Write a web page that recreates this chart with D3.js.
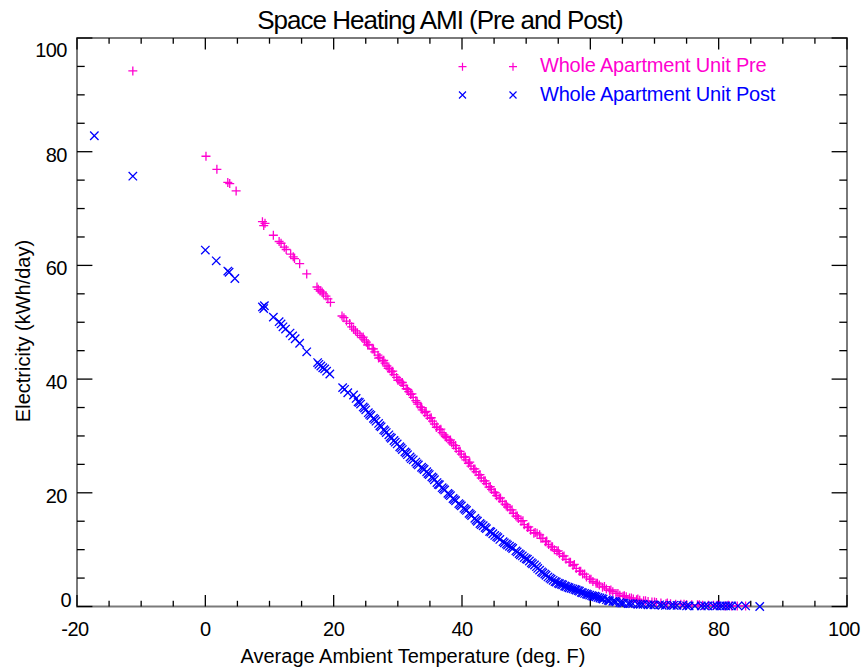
<!DOCTYPE html>
<html>
<head>
<meta charset="utf-8">
<script src="https://cdn.jsdelivr.net/npm/d3@7"></script>
<style>
  body { margin: 0; background: #fff; }
  text { font-family: "Liberation Sans", Arial, sans-serif; }
</style>
</head>
<body>
<div id="chart"></div>
<script>
// Daten - Vorher
const preTemp = [-11.3, 0.1, 1.8, 3.5, 3.8, 4.8, 8.9, 9.1, 9.3, 10.6, 11.5, 11.8, 12.3, 12.6, 13.3, 13.7, 13.9, 14.7, 15.8,
  17.4, 17.6, 17.9, 18.2, 18.4, 18.8, 19.1, 19.5, 21.3, 21.6, 22.8, 23.1, 23.4, 23.7, 24.1, 24.4, 24.8, 25.1, 25.5,
  26.0, 26.4, 26.9, 27.2, 27.6, 28.0, 28.3, 28.7, 29.0, 29.4, 29.8, 30.2, 30.5, 30.9, 31.3, 31.7, 32.0, 32.4, 32.8,
  33.1, 33.5, 33.8, 34.2, 34.6, 35.0, 35.4, 35.7, 36.1, 36.5, 36.9, 37.2, 37.6, 38.0, 38.4, 38.7, 39.1, 39.5, 39.9,
  40.3, 40.6, 41.0, 41.4, 41.8, 42.2, 42.6, 43.0, 43.4, 43.8, 44.2, 44.6, 45.0, 45.4, 45.8, 46.3, 46.7, 47.1, 47.5,
  48.0, 48.4, 48.8, 49.2, 49.7, 50.2, 50.7, 51.2, 51.7, 52.1, 52.6, 53.0, 53.5, 53.9, 54.4, 54.8, 55.2, 55.7, 56.2,
  56.7, 57.3, 57.8, 58.3, 58.8, 59.4, 59.9, 60.4, 60.9, 61.4, 61.9, 62.5, 63.0, 63.5, 64.0, 64.6, 65.1, 65.6, 66.1,
  66.7, 67.2, 67.7, 68.3, 69.0, 69.6, 70.3, 71.0, 71.8, 72.5, 73.3, 74.1, 75.0, 75.8, 76.7, 77.5, 78.4, 79.2, 80.1,
  81.0, 82.0, 82.9, 84.2];
const preKwh = [94.2, 79.2, 76.9, 74.6, 74.4, 73.1, 67.7, 67.0, 67.4, 65.3, 64.2, 63.9, 63.2, 62.8, 62.0, 61.5, 61.2, 60.3, 58.5,
  56.2, 55.8, 55.5, 55.3, 55.0, 54.6, 54.1, 53.5, 51.1, 50.8, 49.2, 48.8, 48.5, 48.1, 47.7, 47.3, 46.9, 46.5, 46.1,
  45.3, 44.8, 44.2, 43.8, 43.2, 42.8, 42.3, 41.8, 41.3, 40.8, 40.3, 39.8, 39.4, 38.9, 38.3, 37.8, 37.3, 36.8, 36.2,
  35.6, 35.1, 34.6, 34.1, 33.6, 33.1, 32.6, 32.1, 31.6, 31.1, 30.6, 30.2, 29.7, 29.2, 28.8, 28.4, 27.8, 27.3, 26.8,
  26.3, 25.8, 25.2, 24.7, 24.2, 23.7, 23.1, 22.6, 22.1, 21.6, 21.0, 20.6, 20.1, 19.5, 19.0, 18.5, 18.0, 17.5, 17.0,
  16.4, 15.9, 15.5, 15.0, 14.4, 13.9, 13.4, 12.9, 12.9, 12.6, 12.0, 11.4, 10.9, 10.5, 10.0, 9.7, 9.3, 8.8, 8.3,
  7.8, 7.2, 6.7, 6.2, 5.7, 5.2, 4.8, 4.4, 4.1, 3.8, 3.4, 3.1, 2.8, 2.6, 2.3, 2.0, 1.8, 1.7, 1.5,
  1.3, 1.2, 1.1, 1.0, 0.9, 0.8, 0.7, 0.6, 0.5, 0.5, 0.4, 0.4, 0.3, 0.3, 0.3, 0.2, 0.2, 0.2, 0.2,
  0.1, 0.1, 0.1, 0.1];
// weitere Tage im dichten Bereich
const preTempB = [22.0, 22.5, 24.6, 25.3, 26.2, 27.0, 27.8, 28.5, 29.2, 30.0, 30.7, 31.5, 32.2, 33.0, 33.7, 34.4, 35.2, 36.0,
  36.7, 37.4, 38.2, 39.0, 39.7, 40.5, 41.2, 42.0, 42.8, 43.6, 44.4, 45.2, 46.0, 46.9, 47.8, 48.6, 49.5, 50.4, 51.4,
  52.3, 53.2, 54.1, 55.0, 55.9, 56.9, 57.5, 58.5, 59.1, 60.1, 61.1, 62.2, 63.2, 64.3, 65.3, 66.4, 67.4, 68.6, 70.0,
  72.0, 74.6, 77.0, 79.8, 81.5];
const preKwhB = [50.2, 49.8, 47.4, 46.0, 45.3, 43.7, 43.3, 41.9, 41.4, 39.8, 39.4, 38.2, 37.4, 35.9, 35.0, 34.3, 33.2, 31.5,
  31.2, 29.9, 29.3, 28.3, 27.3, 26.3, 25.4, 24.2, 23.2, 22.1, 21.1, 20.0, 19.1, 17.9, 17.0, 15.9, 15.1, 14.0, 13.0,
  12.0, 11.5, 10.5, 9.8, 8.9, 7.8, 7.4, 6.2, 5.7, 4.8, 4.1, 3.5, 2.9, 2.3, 1.9, 1.5, 1.3, 1.0, 0.8,
  0.6, 0.4, 0.3, 0.2, 0.2];

// Daten - Nachher
const postTemp = [-17.3, -11.3, 0.0, 1.7, 3.5, 3.7, 4.6, 8.9, 9.1, 9.2, 10.6, 11.5, 11.8, 12.1, 12.5, 13.2, 13.6, 14.0, 14.7,
  15.8, 17.5, 17.7, 18.0, 18.3, 18.6, 18.9, 19.4, 21.4, 21.7, 23.1, 23.5, 23.8, 24.2, 24.6, 25.0, 25.4, 25.8, 26.2,
  26.6, 27.0, 27.4, 27.8, 28.2, 28.6, 29.0, 29.4, 29.9, 30.3, 30.7, 31.1, 31.5, 31.9, 32.4, 32.8, 33.2, 33.7, 34.1,
  34.5, 34.9, 35.3, 35.7, 36.1, 36.5, 36.9, 37.3, 37.8, 38.2, 38.6, 39.0, 39.5, 39.9, 40.3, 40.7, 41.1, 41.5, 42.0,
  42.4, 42.8, 43.3, 43.8, 44.3, 44.8, 45.4, 45.9, 46.4, 46.9, 47.4, 47.9, 48.4, 48.9, 49.4, 50.0, 50.5, 51.0, 51.6,
  52.1, 52.6, 53.1, 53.7, 54.2, 54.7, 55.2, 55.7, 56.2, 56.7, 57.3, 57.8, 58.3, 58.8, 59.4, 59.9, 60.4, 60.9, 61.5,
  62.0, 62.5, 63.0, 63.5, 64.0, 64.6, 65.2, 65.9, 66.6, 67.4, 68.2, 69.0, 69.9, 70.8, 71.7, 72.6, 73.5, 74.4, 75.4,
  76.3, 77.3, 78.3, 79.2, 80.2, 81.1, 82.0, 84.2, 86.4];
const postKwh = [82.8, 75.7, 62.7, 60.8, 59.0, 58.8, 57.7, 52.7, 52.4, 52.9, 50.9, 50.1, 49.7, 49.2, 48.8, 48.1, 47.6, 47.1, 46.3,
  44.8, 42.9, 42.6, 42.3, 42.0, 41.8, 41.4, 40.9, 38.5, 38.2, 37.2, 36.6, 36.0, 35.6, 35.1, 34.6, 34.1, 33.6, 33.1,
  32.6, 32.2, 31.6, 31.1, 30.6, 30.2, 29.6, 29.2, 28.6, 28.1, 27.6, 27.2, 26.7, 26.3, 25.8, 25.4, 24.9, 24.5, 24.1,
  23.7, 23.2, 22.8, 22.3, 21.8, 21.4, 20.9, 20.5, 19.9, 19.5, 19.0, 18.6, 18.1, 17.7, 17.3, 16.9, 16.4, 16.0, 15.5,
  15.0, 14.6, 14.2, 13.7, 13.2, 12.8, 12.3, 11.8, 11.4, 11.0, 10.6, 10.2, 9.8, 9.3, 8.9, 8.4, 8.0, 7.5, 7.0,
  6.4, 5.9, 5.5, 5.0, 4.6, 4.3, 4.0, 3.8, 3.5, 3.3, 3.1, 2.9, 2.7, 2.4, 2.2, 2.0, 1.8, 1.7, 1.5,
  1.3, 1.2, 1.0, 0.9, 0.8, 0.7, 0.6, 0.5, 0.5, 0.4, 0.4, 0.3, 0.3, 0.3, 0.2, 0.2, 0.2, 0.2, 0.1,
  0.1, 0.1, 0.1, 0.1, 0.1, 0.1, 0.1, 0.1, 0.0];
const postTempB = [22.2, 24.0, 24.8, 25.6, 26.4, 27.2, 28.0, 28.8, 29.6, 30.5, 31.3, 32.1, 33.0, 33.9, 34.7, 35.5, 36.3, 37.1,
  38.0, 38.8, 39.7, 40.5, 41.3, 42.2, 43.0, 43.6, 44.5, 45.1, 45.6, 46.6, 47.1, 47.7, 48.6, 49.1, 49.7, 50.2, 50.8,
  51.3, 51.8, 52.4, 52.9, 53.4, 53.9, 54.5, 55.0, 55.5, 56.0, 56.5, 57.0, 57.6, 58.1, 58.6, 59.1, 59.6, 60.2, 60.7,
  61.2, 61.8, 62.8, 63.8, 64.9, 66.2, 67.8, 69.4, 71.2, 73.0, 75.0, 77.8, 79.7, 80.6, 81.6, 83.0];
const postKwhB = [37.6, 35.9, 34.9, 33.8, 32.9, 31.8, 30.9, 29.8, 28.9, 27.9, 27.0, 26.0, 25.1, 24.3, 23.4, 22.6, 21.5, 20.7,
  19.7, 18.8, 17.9, 17.1, 16.2, 15.2, 14.4, 13.9, 13.1, 12.5, 12.1, 11.2, 10.8, 10.4, 9.6, 9.1, 8.6, 8.3, 7.7,
  7.3, 6.7, 6.1, 5.7, 5.2, 4.8, 4.4, 4.1, 3.9, 3.6, 3.4, 3.2, 3.0, 2.8, 2.5, 2.3, 2.1, 1.9, 1.8,
  1.6, 1.4, 1.1, 0.9, 0.6, 0.5, 0.4, 0.3, 0.2, 0.2, 0.1, 0.1, 0.1, 0.1, 0.1, 0.1];

const xTicks = [-20, 0, 20, 40, 60, 80, 100];
const yTicks = [0, 20, 40, 60, 80, 100];
const preColor = "#ff00d0";
const postColor = "#0000ff";

const width = 864, height = 670;
const margin = { top: 38, right: 17, bottom: 63.5, left: 77 };
const plotW = width - margin.left - margin.right;
const plotH = height - margin.top - margin.bottom;

const svg = d3.select("#chart").append("svg")
  .attr("width", width)
  .attr("height", height);

const x = d3.scaleLinear().domain([-20, 100]).range([margin.left, margin.left + plotW]);
const y = d3.scaleLinear().domain([0, 100]).range([margin.top + plotH, margin.top]);

// Achsenrahmen (grau)
svg.append("rect")
  .attr("x", margin.left).attr("y", margin.top)
  .attr("width", plotW).attr("height", plotH)
  .attr("fill", "none").attr("stroke", "#7a7a7a").attr("stroke-width", 2);

// Ticks nach innen, Nebenticks alle 5 Einheiten
const xMinor = d3.range(-20, 100.1, 5);
const yMinor = d3.range(0, 100.1, 5);
const xLen = d => (d % 20 === 0 ? 11.4 : 5.7);
const yLen = d => (d % 20 === 0 ? 15.4 : 7.7);
const ticks = svg.append("g").attr("stroke", "#000").attr("stroke-width", 1.3);

ticks.selectAll(".xb").data(xMinor).enter().append("line")
  .attr("x1", d => x(d)).attr("x2", d => x(d))
  .attr("y1", y(0)).attr("y2", d => y(0) - xLen(d));
ticks.selectAll(".xt").data(xMinor).enter().append("line")
  .attr("x1", d => x(d)).attr("x2", d => x(d))
  .attr("y1", y(100)).attr("y2", d => y(100) + xLen(d));
ticks.selectAll(".yl").data(yMinor).enter().append("line")
  .attr("y1", d => y(d)).attr("y2", d => y(d))
  .attr("x1", x(-20)).attr("x2", d => x(-20) + yLen(d));
ticks.selectAll(".yr").data(yMinor).enter().append("line")
  .attr("y1", d => y(d)).attr("y2", d => y(d))
  .attr("x1", x(100)).attr("x2", d => x(100) - yLen(d));

// Tick-Beschriftungen
svg.selectAll(".xlab").data(xTicks).enter().append("text")
  .attr("x", d => x(d) - (d === -20 ? 2 : d === 100 ? 3 : 0))
  .attr("y", 636)
  .attr("text-anchor", "middle")
  .attr("font-size", 20)
  .attr("letter-spacing", -0.5)
  .text(d => d);

svg.selectAll(".ylab").data(yTicks).enter().append("text")
  .attr("x", d => (d === 0 ? 71 : 67))
  .attr("y", d => Math.min(Math.max(y(d) + 10, 56.5), 607))
  .attr("text-anchor", "end")
  .attr("font-size", 20)
  .attr("letter-spacing", -0.5)
  .text(d => d);

// Titel und Achsentitel
svg.append("text")
  .attr("x", 440).attr("y", 29)
  .attr("text-anchor", "middle")
  .attr("font-size", 26)
  .attr("letter-spacing", -1)
  .text("Space Heating AMI (Pre and Post)");

svg.append("text")
  .attr("x", 413).attr("y", 663)
  .attr("text-anchor", "middle")
  .attr("font-size", 20)
  .text("Average Ambient Temperature (deg. F)");

svg.append("text")
  .attr("transform", "translate(29.5,331) rotate(-90)")
  .attr("text-anchor", "middle")
  .attr("font-size", 20)
  .text("Electricity (kWh/day)");

// Symbole
const plusPath = s => `M${-s},0H${s}M0,${-s}V${s}`;
const crossPath = s => `M${-s},${-s}L${s},${s}M${-s},${s}L${s},${-s}`;

const preData = preTemp.concat(preTempB).map((t, i) => ({ t, v: preKwh.concat(preKwhB)[i] }));
const postData = postTemp.concat(postTempB).map((t, i) => ({ t, v: postKwh.concat(postKwhB)[i] }));

svg.append("g").selectAll("path").data(preData).enter().append("path")
  .attr("transform", d => `translate(${x(d.t)},${y(d.v)})`)
  .attr("d", plusPath(4.5))
  .attr("fill", "none").attr("stroke", preColor).attr("stroke-width", 1.3);

svg.append("g").selectAll("path").data(postData).enter().append("path")
  .attr("transform", d => `translate(${x(d.t)},${y(d.v)})`)
  .attr("d", crossPath(4.2))
  .attr("fill", "none").attr("stroke", postColor).attr("stroke-width", 1.3);

// Legende
const legend = [
  { label: "Whole Apartment Unit Pre", color: preColor, path: plusPath(4), y: 66.7, ty: 72 },
  { label: "Whole Apartment Unit Post", color: postColor, path: crossPath(3.5), y: 95, ty: 101 }
];
legend.forEach(l => {
  [462.5, 513].forEach(px => {
    svg.append("path")
      .attr("transform", `translate(${px},${l.y})`)
      .attr("d", l.path)
      .attr("fill", "none").attr("stroke", l.color).attr("stroke-width", 1.2);
  });
  svg.append("text")
    .attr("x", 540).attr("y", l.ty)
    .attr("font-size", 20)
    .attr("letter-spacing", -0.2)
    .attr("fill", l.color)
    .text(l.label);
});
</script>
</body>
</html>
